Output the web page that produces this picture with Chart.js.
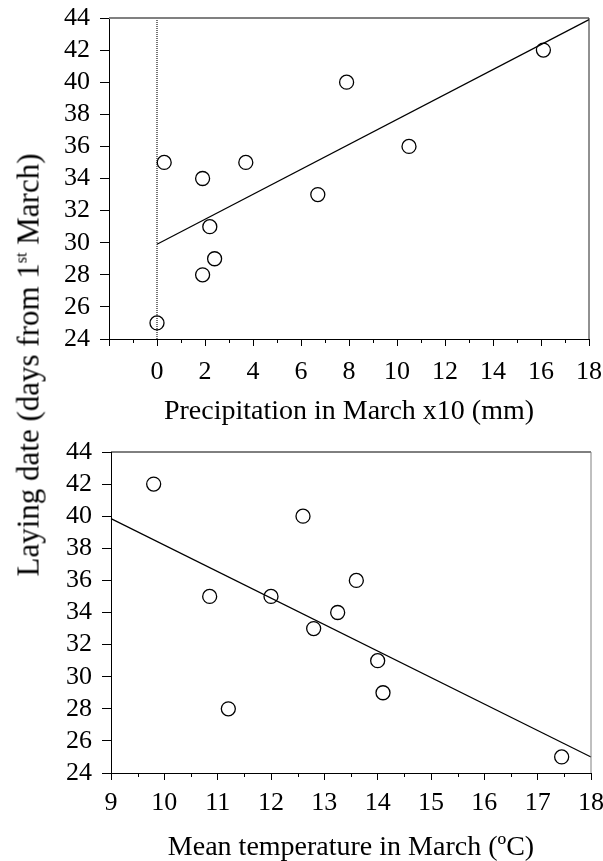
<!DOCTYPE html>
<html>
<head>
<meta charset="utf-8">
<script src="https://cdn.jsdelivr.net/npm/chart.js@4/dist/chart.umd.min.js"></script>
<style>
  html, body { margin: 0; padding: 0; background: #fff; }
  body { width: 603px; height: 861px; position: relative; overflow: hidden; font-family: "Liberation Serif", serif; }
  canvas { position: absolute; left: 0; }
  #top { top: 0; }
  #bot { top: 430px; }
  #ytitle {
    position: absolute; left: 28px; top: 365px;
    transform: translate(-50%, -50%) rotate(-90deg);
    white-space: nowrap; font-size: 31px; color: #000; line-height: 1;
  }
  #ytitle sup { font-size: 16px; vertical-align: 12px; }
</style>
</head>
<body>
<canvas id="top" width="603" height="430"></canvas>
<canvas id="bot" width="603" height="431"></canvas>
<div id="ytitle">Laying date (days from 1<sup>st</sup> March)</div>
<script>
// data
var layDate = [25, 35, 34, 35, 31, 29, 28, 40, 33, 36, 42];
var precip = [0, 0.3, 1.9, 3.7, 2.2, 2.4, 1.9, 7.9, 6.7, 10.5, 16.1];
var layDate2 = [42, 35, 35, 28, 40, 36, 34, 33, 31, 29, 25];
var temp = [9.8, 10.85, 12.0, 11.2, 12.6, 13.6, 13.25, 12.8, 14.0, 14.1, 17.45];

var fitPrecipX = [0, 18];
var fitPrecipY = [29.9, 43.9];
var fitTempX = [9, 18];
var fitTempY = [39.85, 25.0];
var zeroLineX = [0, 0];
var zeroLineY = [24, 44];

var precipTicks = [-2, 0, 2, 4, 6, 8, 10, 12, 14, 16, 18];
var precipMinor = [-1, 1, 3, 5, 7, 9, 11, 13, 15, 17];
var tempTicks = [9, 10, 11, 12, 13, 14, 15, 16, 17, 18];
var tempMinor = [9.5, 10.5, 11.5, 12.5, 13.5, 14.5, 15.5, 16.5, 17.5];
var yTicks = [24, 26, 28, 30, 32, 34, 36, 38, 40, 42, 44];

var FONT = '"Liberation Serif", "Times New Roman", serif';

function pts(xs, ys) {
    var out = [];
    for (var i = 0; i < xs.length; i++) out.push({ x: xs[i], y: ys[i] });
    return out;
}

// minor x ticks + top/right frame
var framePlugin = {
    id: 'frame',
    afterDraw: function (chart, args, o) {
        var ctx = chart.ctx, a = chart.chartArea, sx = chart.scales.x;
        ctx.save();
        ctx.strokeStyle = '#000';
        ctx.lineWidth = 1;
        o.minor.forEach(function (v) {
            var px = Math.round(sx.getPixelForValue(v)) + 0.5;
            ctx.beginPath();
            ctx.moveTo(px, a.bottom);
            ctx.lineTo(px, a.bottom + 4);
            ctx.stroke();
        });
        ctx.strokeStyle = o.topColor;
        ctx.lineWidth = o.topWidth;
        ctx.beginPath();
        ctx.moveTo(a.left, a.top);
        ctx.lineTo(a.right, a.top);
        ctx.stroke();
        ctx.strokeStyle = o.rightColor;
        ctx.lineWidth = 1;
        ctx.beginPath();
        ctx.moveTo(a.right, a.top);
        ctx.lineTo(a.right, a.bottom);
        ctx.stroke();
        ctx.restore();
    }
};

function makeChart(id, cfg) {
    var ctx = document.getElementById(id).getContext('2d');
    var datasets = [{
        data: pts(cfg.x, cfg.y),
        showLine: false,
        pointStyle: 'circle',
        pointRadius: 7,
        pointBorderWidth: 1.3,
        pointBorderColor: '#000',
        pointBackgroundColor: 'rgba(0,0,0,0)',
        clip: false
    }, {
        data: pts(cfg.fitX, cfg.fitY),
        showLine: true,
        pointRadius: 0,
        borderColor: '#000',
        borderWidth: 1.2,
        clip: false
    }];
    if (cfg.zero) {
        datasets.push({
            data: pts(zeroLineX, zeroLineY),
            showLine: true,
            pointRadius: 0,
            borderColor: '#444',
            borderWidth: 1.5,
            borderDash: [1, 1]
        });
    }
    return new Chart(ctx, {
        type: 'scatter',
        data: { datasets: datasets },
        options: {
            responsive: false,
            animation: false,
            devicePixelRatio: 1,
            layout: { padding: cfg.pad },
            plugins: {
                legend: { display: false },
                tooltip: { enabled: false },
                frame: cfg.frame
            },
            scales: {
                x: {
                    type: 'linear',
                    min: cfg.xmin,
                    max: cfg.xmax,
                    afterBuildTicks: function (s) {
                        s.ticks = cfg.ticks.map(function (v) { return { value: v }; });
                    },
                    ticks: {
                        autoSkip: false,
                        maxRotation: 0,
                        padding: cfg.tickPad,
                        color: '#000',
                        font: { family: FONT, size: 26 },
                        callback: function (v) { return v < 0 ? '' : v; }
                    },
                    grid: { drawOnChartArea: false, drawTicks: true, tickLength: 7, tickColor: '#000', tickWidth: 1 },
                    border: { color: '#000', width: 1 },
                    title: {
                        display: true,
                        text: cfg.title,
                        color: '#000',
                        font: { family: FONT, size: 28 },
                        padding: { top: 0, bottom: cfg.titlePad }
                    },
                    afterFit: function (s) {
                        s.height = cfg.xh;
                        s.paddingLeft = 0;
                        s.paddingRight = 0;
                    }
                },
                y: {
                    min: 24,
                    max: 44,
                    afterBuildTicks: function (s) {
                        s.ticks = yTicks.map(function (v) { return { value: v }; });
                    },
                    ticks: { autoSkip: false, padding: 10, color: '#000', font: { family: FONT, size: 26 } },
                    grid: { drawOnChartArea: false, drawTicks: true, tickLength: 9, tickColor: '#000', tickWidth: 1 },
                    border: { color: '#000', width: 1 },
                    afterFit: function (s) {
                        s.width = cfg.yw;
                        s.paddingTop = 0;
                        s.paddingBottom = 0;
                    }
                }
            }
        },
        plugins: [framePlugin]
    });
}

makeChart('top', {
    x: precip, y: layDate, fitX: fitPrecipX, fitY: fitPrecipY, zero: true,
    xmin: -2, xmax: 18, ticks: precipTicks, tickPad: 11,
    title: 'Precipitation in March x10 (mm)', titlePad: 2,
    pad: { top: 18, right: 14, left: 0, bottom: 0 }, xh: 91, yw: 109,
    frame: { minor: precipMinor, topColor: '#808080', topWidth: 2, rightColor: '#222' }
});

makeChart('bot', {
    x: temp, y: layDate2, fitX: fitTempX, fitY: fitTempY, zero: false,
    xmin: 9, xmax: 18, ticks: tempTicks, tickPad: 8,
    title: 'Mean temperature in March (ºC)', titlePad: -3,
    pad: { top: 22, right: 12, left: 0, bottom: 0 }, xh: 88, yw: 111,
    frame: { minor: tempMinor, topColor: '#000', topWidth: 1, rightColor: '#808080' }
});
</script>
</body>
</html>
